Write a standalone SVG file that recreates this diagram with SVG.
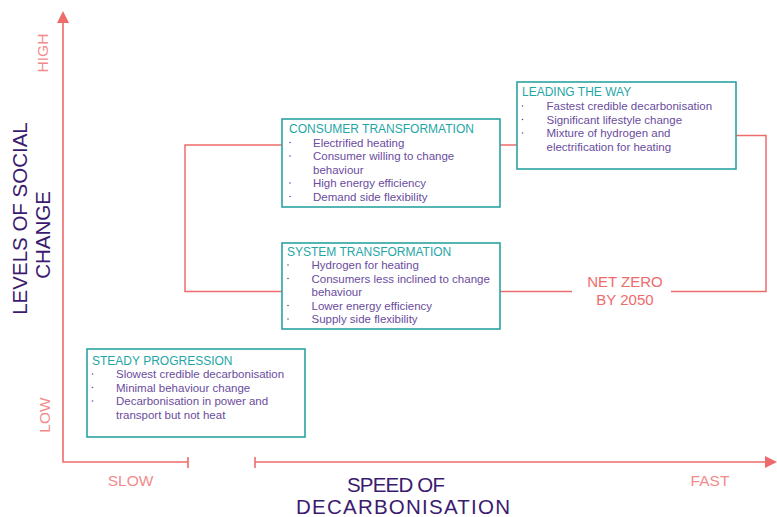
<svg xmlns="http://www.w3.org/2000/svg" width="777" height="517" viewBox="0 0 777 517">
<defs>
<style>
.ax{stroke:#EE6B6B;stroke-width:1.6;fill:none}
.con{stroke:#EE6B6B;stroke-width:1.5;fill:none}
.box{fill:#fff;stroke:#2BA3A3;stroke-width:1.6}
.ttl{font-family:"Liberation Sans",Arial,sans-serif;font-size:12px;fill:#1FA6A6}
.itm{font-family:"Liberation Sans",Arial,sans-serif;font-size:11.5px;fill:#6B4C9E}
.dot{fill:#6B4C9E}
.lvl{font-family:"Liberation Sans",Arial,sans-serif;font-size:15.5px;fill:#F28B8B}
.big{font-family:"Liberation Sans",Arial,sans-serif;font-size:20.5px;fill:#3B1A6F}
.nz{font-family:"Liberation Sans",Arial,sans-serif;font-size:15px;fill:#EE6B6B;text-anchor:middle}
</style>
</defs>

<g id="axes">
<path class="ax" d="M63,20 V462 H188"/>
<path class="ax" d="M188,457 V468"/>
<path class="ax" d="M255,457 V468"/>
<path class="ax" d="M255,462 H767"/>
<polygon points="63,11 57,23 69,23" fill="#EE6B6B"/>
<polygon points="777,462 765,456 765,468" fill="#EE6B6B"/>
</g>

<g id="axis-labels">
<text class="lvl" text-anchor="middle" transform="translate(47.5,53) rotate(-90)">HIGH</text>
<text class="lvl" text-anchor="middle" transform="translate(50,415) rotate(-90)">LOW</text>
<text class="big" text-anchor="middle" transform="translate(27,218.5) rotate(-90)">LEVELS OF SOCIAL</text>
<text class="big" text-anchor="middle" transform="translate(50,235) rotate(-90)">CHANGE</text>
<text class="lvl" x="130.5" y="486" text-anchor="middle">SLOW</text>
<text class="lvl" x="710" y="486" text-anchor="middle">FAST</text>
<text class="big" x="347" y="492" font-size="21" textLength="98" lengthAdjust="spacing">SPEED OF</text>
<text class="big" x="296" y="514" font-size="21" textLength="214" lengthAdjust="spacing">DECARBONISATION</text>
</g>

<g id="connectors">
<path class="con" d="M282,145 H185 V291.5 H282"/>
<path class="con" d="M500,145 H517"/>
<path class="con" d="M736,135.5 H766 V291.5 H671"/>
<path class="con" d="M572,291.5 H500"/>
</g>

<g id="net-zero">
<text class="nz" x="625" y="287">NET ZERO</text>
<text class="nz" x="625" y="305">BY 2050</text>
</g>

<g id="consumer-transformation">
<rect class="box" x="282" y="119" width="218" height="88"/>
<text class="ttl" x="289" y="133">CONSUMER TRANSFORMATION</text>
<circle class="dot" cx="290" cy="142.5" r="0.8"/>
<circle class="dot" cx="290" cy="156" r="0.8"/>
<circle class="dot" cx="290" cy="183" r="0.8"/>
<circle class="dot" cx="290" cy="196.5" r="0.8"/>
<text class="itm" x="313" y="146.5">Electrified heating</text>
<text class="itm" x="313" y="160">Consumer willing to change</text>
<text class="itm" x="313" y="173.5">behaviour</text>
<text class="itm" x="313" y="187">High energy efficiency</text>
<text class="itm" x="313" y="200.5">Demand side flexibility</text>
</g>

<g id="system-transformation">
<rect class="box" x="282" y="243" width="218" height="86"/>
<text class="ttl" x="287" y="256">SYSTEM TRANSFORMATION</text>
<circle class="dot" cx="288" cy="265" r="0.8"/>
<circle class="dot" cx="288" cy="278.5" r="0.8"/>
<circle class="dot" cx="288" cy="305.5" r="0.8"/>
<circle class="dot" cx="288" cy="319" r="0.8"/>
<text class="itm" x="311.5" y="269">Hydrogen for heating</text>
<text class="itm" x="311.5" y="282.5">Consumers less inclined to change</text>
<text class="itm" x="311.5" y="296">behaviour</text>
<text class="itm" x="311.5" y="309.5">Lower energy efficiency</text>
<text class="itm" x="311.5" y="323">Supply side flexibility</text>
</g>

<g id="leading-the-way">
<rect class="box" x="517" y="82" width="219" height="87"/>
<text class="ttl" x="522" y="95.5">LEADING THE WAY</text>
<circle class="dot" cx="522.5" cy="106" r="0.8"/>
<circle class="dot" cx="522.5" cy="119.5" r="0.8"/>
<circle class="dot" cx="522.5" cy="133" r="0.8"/>
<text class="itm" x="546.5" y="110">Fastest credible decarbonisation</text>
<text class="itm" x="546.5" y="123.5">Significant lifestyle change</text>
<text class="itm" x="546.5" y="137">Mixture of hydrogen and</text>
<text class="itm" x="546.5" y="150.5">electrification for heating</text>
</g>

<g id="steady-progression">
<rect class="box" x="87" y="349" width="218" height="88"/>
<text class="ttl" x="92" y="364.5">STEADY PROGRESSION</text>
<circle class="dot" cx="92.5" cy="374" r="0.8"/>
<circle class="dot" cx="92.5" cy="387.5" r="0.8"/>
<circle class="dot" cx="92.5" cy="401" r="0.8"/>
<text class="itm" x="116" y="378">Slowest credible decarbonisation</text>
<text class="itm" x="116" y="391.5">Minimal behaviour change</text>
<text class="itm" x="116" y="405">Decarbonisation in power and</text>
<text class="itm" x="116" y="418.5">transport but not heat</text>
</g>
</svg>
